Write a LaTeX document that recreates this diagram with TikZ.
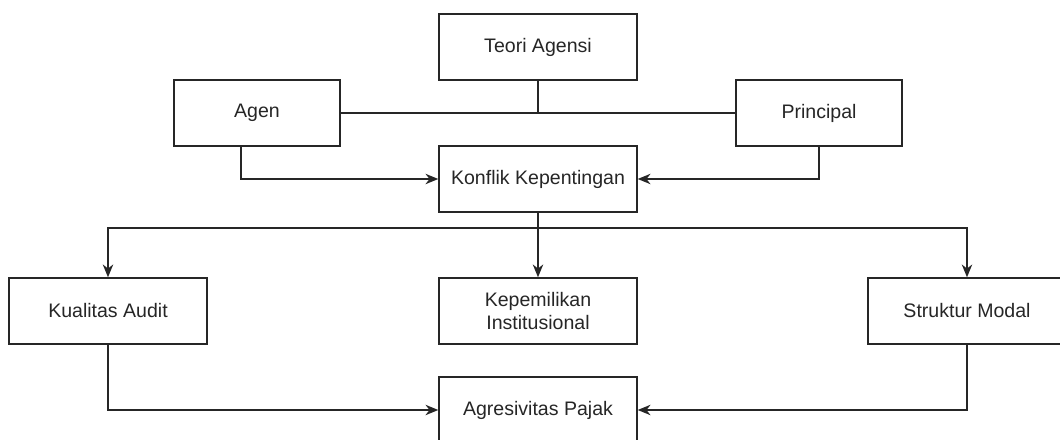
\documentclass[tikz,border=0pt]{standalone}
\usepackage{fontspec}
\setmainfont{Liberation Sans}
\usetikzlibrary{arrows.meta}
\begin{document}
\begin{tikzpicture}[
        kotak/.style={draw=black!85,rectangle,line width=1pt,fill=white,text=black!85,align=center,minimum width=4.95cm,minimum height=1.65cm,inner sep=0pt,font=\fontsize{13.9}{17}\selectfont},
        kecil/.style={kotak,minimum width=4.15cm},
        garis/.style={draw=black!85,line width=1pt},
        panah/.style={garis,-{Stealth[length=3.2mm,width=2.6mm,inset=1mm]}}
      ]
      \clip (0,0) rectangle (26.5,11);
      \node[kotak] (teori) at (13.45,9.825) {Teori Agensi};
      \node[kecil] (agen) at (6.425,8.175) {Agen};
      \node[kecil] (principal) at (20.475,8.175) {Principal};
      \node[kotak] (konflik) at (13.45,6.525) {Konflik Kepentingan};
      \node[kotak] (kualitas) at (2.7,3.225) {Kualitas Audit};
      \node[kotak] (kepemilikan) at (13.45,3.225) {Kepemilikan\\Institusional};
      \node[kotak] (struktur) at (24.175,3.225) {Struktur Modal};
      \node[kotak] (agresivitas) at (13.45,0.75) {Agresivitas Pajak};
      \coordinate (cabang) at (13.45,5.3);
      \draw[garis] (agen.east) -- (principal.west);
      \draw[garis] (teori.south) -- (teori.south |- agen.east);
      \draw[panah] ([xshift=-0.4cm]agen.south) |- (konflik.west);
      \draw[panah] (principal.south) |- (konflik.east);
      \draw[panah] (konflik.south) -- (kepemilikan.north);
      \draw[panah] (cabang) -| (kualitas.north);
      \draw[panah] (cabang) -| (struktur.north);
      \draw[panah] (kualitas.south) |- (agresivitas.west);
      \draw[panah] (struktur.south) |- (agresivitas.east);
    \end{tikzpicture}
\end{document}
